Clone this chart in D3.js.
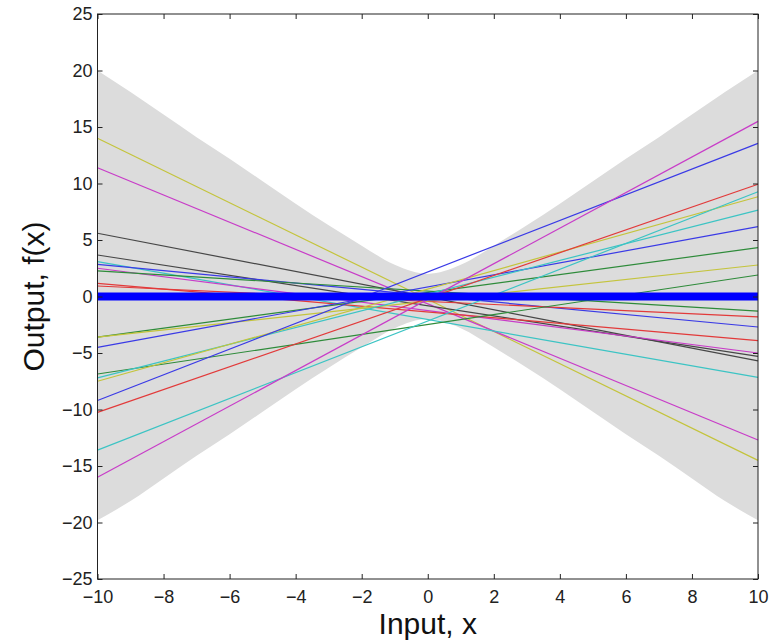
<!DOCTYPE html>
<html>
<head>
<meta charset="utf-8">
<script src="https://cdn.jsdelivr.net/npm/d3@7"></script>
<style>
  html, body { margin: 0; padding: 0; background: #fff; }
  svg text { font-family: "Liberation Sans", Arial, Helvetica, sans-serif; }
</style>
</head>
<body>
<div id="chart"></div>
<script>
// tick values
const xTicks = [-10, -8, -6, -4, -2, 0, 2, 4, 6, 8, 10];
const yTicks = [-25, -20, -15, -10, -5, 0, 5, 10, 15, 20, 25];

// grey band
const bandX     = [-10, -9, -8, -7, -6, -5, -4, -3, -2, -1, 0, 1, 2, 3, 4, 5, 6, 7, 8, 9, 10];
const bandUpper = [20.0, 18.1, 16.1, 14.1, 12.2, 10.2, 8.2, 6.3, 4.5, 2.8, 2.0, 2.8, 4.5, 6.3, 8.2, 10.2, 12.2, 14.1, 16.1, 18.1, 20.0];
const bandLower = [-19.8, -18.1, -16.1, -14.1, -12.2, -10.2, -8.2, -6.3, -4.5, -2.8, -2.0, -2.8, -4.5, -6.3, -8.2, -10.2, -12.2, -14.1, -16.1, -18.1, -19.8];

// sample lines: value at x=-10 and x=10
const lineEnds   = [-10, 10];
const lineLeft   = [14.0, 11.4, 5.6, 3.67, 3.08, 2.85, 2.5, 2.26, 1.17, 0.93, -3.6, -3.6, -4.5, -6.86, -7.2, -7.5, -9.2, -10.25, -13.6, -16.0];
const lineRight  = [-14.5, -12.7, -5.7, -5.3, -7.15, -2.7, -5.0, -1.3, -3.9, -1.8, 4.32, 2.79, 6.18, 1.9, 7.65, 8.83, 13.55, 9.93, 9.27, 15.5];
const lineColors = ['y', 'm', 'k', 'k', 'c', 'b', 'm', 'g', 'r', 'r', 'g', 'y', 'b', 'g', 'c', 'y', 'b', 'r', 'c', 'm'];

// mean line
const meanLeft = 0;
const meanRight = 0;

const colorMap = {
    b: '#3a3ae6',
    g: '#2e8b3a',
    r: '#e23a3a',
    c: '#3cc4c4',
    m: '#c83cc8',
    y: '#c4c43c',
    k: '#474747'
};

const W = 769, H = 643;
const margin = { top: 14, right: 11, bottom: 64, left: 97.5 };
const width = W - margin.left - margin.right;
const height = H - margin.top - margin.bottom;

const svg = d3.select('#chart')
    .append('svg')
    .attr('width', W)
    .attr('height', H);

const g = svg.append('g')
    .attr('transform', `translate(${margin.left},${margin.top})`);

const x = d3.scaleLinear().domain([-10, 10]).range([0, width]);
const y = d3.scaleLinear().domain([-25, 25]).range([height, 0]);

// band
const area = d3.area()
    .x(d => x(d.x))
    .y0(d => y(d.lo))
    .y1(d => y(d.hi))
    .curve(d3.curveMonotoneX);

const bandData = bandX.map((v, i) => ({ x: v, hi: bandUpper[i], lo: bandLower[i] }));

g.append('path')
    .datum(bandData)
    .attr('d', area)
    .attr('fill', '#dcdcdc');

// sample lines
const line = d3.line()
    .x(d => x(d[0]))
    .y(d => y(d[1]));

lineLeft.forEach((v, i) => {
    g.append('path')
        .datum([[lineEnds[0], v], [lineEnds[1], lineRight[i]]])
        .attr('d', line)
        .attr('fill', 'none')
        .attr('stroke', colorMap[lineColors[i]])
        .attr('stroke-width', 1.2);
});

// mean
g.append('path')
    .datum([[lineEnds[0], meanLeft], [lineEnds[1], meanRight]])
    .attr('d', line)
    .attr('fill', 'none')
    .attr('stroke', '#0000ff')
    .attr('stroke-width', 8);

// axes box with inward ticks
const tickLen = 5;
const axisColor = '#222';

g.append('rect')
    .attr('x', 0)
    .attr('y', 0)
    .attr('width', width)
    .attr('height', height)
    .attr('fill', 'none')
    .attr('stroke', axisColor)
    .attr('stroke-width', 1);

const xAxis = d3.axisBottom(x).tickValues(xTicks).tickSizeInner(-tickLen).tickSizeOuter(0).tickPadding(11);
const yAxis = d3.axisLeft(y).tickValues(yTicks).tickSizeInner(-tickLen).tickSizeOuter(0).tickPadding(5);

const xg = g.append('g')
    .attr('transform', `translate(0,${height})`)
    .call(xAxis);
const yg = g.append('g').call(yAxis);

// top and right ticks
g.append('g')
    .call(d3.axisTop(x).tickValues(xTicks).tickSizeInner(-tickLen).tickSizeOuter(0).tickFormat(''));
g.append('g')
    .attr('transform', `translate(${width},0)`)
    .call(d3.axisRight(y).tickValues(yTicks).tickSizeInner(-tickLen).tickSizeOuter(0).tickFormat(''));

g.selectAll('.domain').remove();
g.selectAll('.tick line').attr('stroke', axisColor);

const minus = t => (t < 0 ? '\u2212' + Math.abs(t) : String(t));
xg.selectAll('text').text(minus);
yg.selectAll('text').text(minus);

g.selectAll('.tick text')
    .attr('fill', axisColor)
    .style('font-size', '18px');

// axis labels
svg.append('text')
    .attr('x', margin.left + width / 2)
    .attr('y', 634)
    .attr('text-anchor', 'middle')
    .attr('fill', '#111')
    .style('font-size', '30px')
    .text('Input, x');

svg.append('text')
    .attr('transform', `translate(44,${margin.top + height / 2}) rotate(-90)`)
    .attr('text-anchor', 'middle')
    .attr('fill', '#111')
    .style('font-size', '30px')
    .text('Output, f(x)');
</script>
</body>
</html>
